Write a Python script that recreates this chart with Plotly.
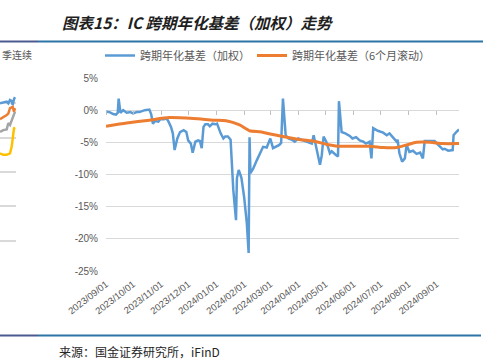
import plotly.graph_objects as go

W, H = 498, 363

# ---- main series: IC cross-period annualized basis (weighted), %
dates_w = [
    "2023-09-01","2023-09-05","2023-09-09","2023-09-12","2023-09-14","2023-09-15","2023-09-17","2023-09-20","2023-09-24","2023-09-28",
    "2023-10-01","2023-10-05","2023-10-08","2023-10-14","2023-10-19","2023-10-21","2023-10-23","2023-10-25","2023-10-29","2023-10-31",
    "2023-11-04","2023-11-07","2023-11-09","2023-11-12","2023-11-14","2023-11-16","2023-11-19","2023-11-22","2023-11-26","2023-11-29",
    "2023-12-01","2023-12-04","2023-12-06","2023-12-09","2023-12-12","2023-12-14","2023-12-16","2023-12-18","2023-12-20","2023-12-23",
    "2023-12-25","2023-12-28","2023-12-31","2024-01-02","2024-01-06","2024-01-09","2024-01-11","2024-01-14","2024-01-17","2024-01-20",
    "2024-01-23","2024-01-24","2024-01-26","2024-01-29","2024-02-01","2024-02-04","2024-02-06","2024-02-07","2024-02-08","2024-02-11",
    "2024-02-15","2024-02-19","2024-02-22","2024-02-26","2024-03-01","2024-03-04","2024-03-11","2024-03-13","2024-03-15","2024-03-18",
    "2024-03-21","2024-03-25","2024-03-28","2024-04-01","2024-04-07","2024-04-12","2024-04-16","2024-04-18","2024-04-21","2024-04-25",
    "2024-04-27","2024-04-29","2024-05-02","2024-05-06","2024-05-08","2024-05-10","2024-05-13","2024-05-15","2024-05-16","2024-05-19",
    "2024-05-23","2024-05-28","2024-05-31","2024-06-04","2024-06-08","2024-06-12","2024-06-15","2024-06-19","2024-06-21","2024-06-23",
    "2024-06-28","2024-07-04","2024-07-08","2024-07-11","2024-07-15","2024-07-19","2024-07-20","2024-07-22","2024-07-25","2024-07-28",
    "2024-07-30","2024-08-02","2024-08-06","2024-08-10","2024-08-14","2024-08-17","2024-08-19","2024-08-25","2024-08-30","2024-09-03",
    "2024-09-08","2024-09-10","2024-09-14","2024-09-19","2024-09-20","2024-09-23","2024-09-26",
]
vals_w = [
    -0.25, -0.3, -0.6, -0.7, -0.4, 1.8, -0.4, 0.0, -0.4, -0.3,
    -0.5, -0.3, -0.3, 0.0, 0.1, -0.6, -2.1, -1.7, -1.8, -1.4,
    -1.4, -1.3, -1.7, -2.6, -3.6, -6.2, -4.4, -3.4, -3.1, -3.4,
    -4.7, -5.2, -6.6, -4.9, -4.7, -4.8, -5.9, -2.6, -2.2, -2.2,
    -2.5, -2.1, -2.2, -2.1, -3.6, -4.4, -4.1, -4.1, -4.6, -12.4,
    -17.1, -10.6, -9.3, -10.5, -13.5, -17.6, -22.2, -4.2, -9.8, -9.1,
    -7.8, -6.7, -5.7, -5.8, -4.4, -5.9, -5.4, -5.1, 1.8, -3.9,
    -4.4, -4.6, -4.9, -4.4, -4.7, -4.9, -5.2, -3.9, -5.9, -8.5,
    -7.0, -4.1, -4.9, -6.7, -6.4, -6.7, -7.0, -7.2, 1.4, -3.4,
    -3.6, -4.0, -4.4, -4.2, -4.7, -4.9, -5.2, -4.9, -7.5, -2.8,
    -3.2, -3.5, -3.9, -3.6, -4.2, -4.9, -4.6, -6.7, -8.0, -7.5,
    -5.4, -6.5, -6.3, -6.8, -6.6, -7.5, -4.8, -4.8, -4.8, -5.4,
    -6.1, -6.0, -6.3, -6.2, -3.9, -3.4, -3.0,
]

# ---- 6-month rolling series, %
dates_r = ["2023-09-01","2023-09-24","2023-10-19","2023-11-10","2023-12-07","2023-12-29","2024-01-12","2024-01-27",
           "2024-02-07","2024-02-19","2024-03-01","2024-03-15","2024-04-02","2024-04-21","2024-05-02","2024-05-15",
           "2024-06-19","2024-07-04","2024-07-19","2024-07-30","2024-08-10","2024-08-25","2024-09-08","2024-09-26"]
vals_r = [-2.5, -2.0, -1.55, -1.15, -1.3, -1.55, -1.65, -2.3,
          -3.2, -3.35, -3.7, -4.1, -4.55, -4.9, -5.3, -5.6,
          -5.6, -5.8, -5.8, -5.4, -5.0, -5.0, -5.2, -5.2]

name_w = "跨期年化基差（加权）"
name_r = "跨期年化基差（6个月滚动）"

y_ticks = [-25, -20, -15, -10, -5, 0, 5]
y_labels = ["-25%", "-20%", "-15%", "-10%", "-5%", "0%", "5%"]
x_ticks = ["2023-09-01","2023-10-01","2023-11-01","2023-12-01","2024-01-01","2024-02-01","2024-03-01",
           "2024-04-01","2024-05-01","2024-06-01","2024-07-01","2024-08-01","2024-09-01"]
x_labels = ["2023/09/01","2023/10/01","2023/11/01","2023/12/01","2024/01/01","2024/02/01","2024/03/01",
            "2024/04/01","2024/05/01","2024/06/01","2024/07/01","2024/08/01","2024/09/01"]

# ---- fragment of the neighbouring chart cut at the left edge
frag_x = [0, 3.3, 6.7, 8.3, 10, 11.7, 12.7, 14, 15]
frag_blue = [5.0, 5.02, 5.05, 5.0, 5.1, 5.07, 4.95, 5.12, 5.18]
frag_orange = [4.54, 4.59, 4.66, 4.7, 4.86, 4.88, 4.9, 4.76, 4.86]
frag_gray = [4.17, 4.22, 4.24, 4.42, 4.37, 4.51, 4.6, 4.7, 4.76]
frag_yellow = [3.54, 3.5, 3.5, 3.52, 3.54, 3.74, 4.03, 4.27, 4.3]
frag_label = "季连续"

title = "图表15：IC 跨期年化基差（加权）走势"
source = "来源：国金证券研究所，iFinD"

BLUE, ORANGE = "#5B9BD5", "#ED7D31"
GRID = "#D9D9D9"
TICKC = "#595959"
NUMFONT = "Liberation Sans, Arial, sans-serif"
CJK = "Noto Sans CJK SC, sans-serif"

def fx(px):
    return px / W

def fy(py):
    return 1 - py / H

fig = go.Figure()
fig.add_trace(go.Scatter(x=dates_w, y=vals_w, mode="lines", name=name_w, legend="legend",
                         line=dict(color=BLUE, width=2.5), xaxis="x", yaxis="y"))
fig.add_trace(go.Scatter(x=dates_r, y=vals_r, mode="lines", name=name_r, legend="legend2",
                         line=dict(color=ORANGE, width=3, shape="spline", smoothing=0.6),
                         xaxis="x", yaxis="y"))
# invisible carrier for the tick-mark axis at 0%
fig.add_trace(go.Scatter(x=dates_r, y=vals_r, mode="lines", showlegend=False, hoverinfo="skip",
                         line=dict(color="rgba(0,0,0,0)"), xaxis="x2", yaxis="y"))

for ys, c in [(frag_yellow, "#FFC000"), (frag_gray, "#A5A5A5"), (frag_orange, ORANGE), (frag_blue, BLUE)]:
    fig.add_trace(go.Scatter(x=frag_x, y=ys, mode="lines", showlegend=False, hoverinfo="skip",
                             line=dict(color=c, width=2.5), xaxis="x3", yaxis="y3"))

main_dom_x = [fx(106), fx(459)]
main_dom_y = [fy(271), fy(78)]

leg_common = dict(orientation="h", xanchor="left", yanchor="top",
                  font=dict(family=CJK, size=11, color=TICKC), bgcolor="rgba(0,0,0,0)",
                  itemwidth=30, tracegroupgap=0)

fig.update_layout(
    template="none",
    width=W, height=H,
    margin=dict(l=0, r=0, t=0, b=0, autoexpand=False),
    paper_bgcolor="white", plot_bgcolor="rgba(0,0,0,0)",
    showlegend=True,
    legend=dict(x=fx(100), y=fy(41), **leg_common),
    legend2=dict(x=fx(252), y=fy(41), **leg_common),
    xaxis=dict(domain=main_dom_x, type="date", range=["2023-09-01", "2024-09-26"],
               tickvals=x_ticks, ticktext=x_labels, tickangle=-38,
               tickfont=dict(family=NUMFONT, size=9.5, color=TICKC), automargin=False,
               showgrid=False, zeroline=False, showline=False, ticks="", anchor="y",
               ticklabelstandoff=5),
    xaxis2=dict(domain=main_dom_x, type="date", matches="x", overlaying="x",
                anchor="free", position=fy(110), automargin=False,
                tickvals=x_ticks, showticklabels=False, ticks="outside", ticklen=4,
                tickcolor="#BFBFBF", tickwidth=1, showgrid=False, zeroline=False, showline=False),
    yaxis=dict(domain=main_dom_y, range=[-25, 5], tickvals=y_ticks, ticktext=y_labels,
               tickfont=dict(family=NUMFONT, size=10, color=TICKC), automargin=False,
               showgrid=True, gridcolor=GRID, gridwidth=1, zeroline=False, showline=False,
               ticks="", ticklabelstandoff=7, anchor="x"),
    xaxis3=dict(domain=[0, fx(16)], range=[0, 16], showgrid=False, zeroline=False, automargin=False,
                showticklabels=False, showline=False, ticks="", anchor="y3"),
    yaxis3=dict(domain=[fy(275), fy(69)], range=[0, 6], dtick=1, showgrid=True, gridcolor=GRID,
                gridwidth=1.5, zeroline=False, showticklabels=False, showline=False, ticks="",
                automargin=False, anchor="x3"),
)

fig.add_annotation(text=title, xref="paper", yref="paper", x=fx(60), y=fy(22),
                   xanchor="left", yanchor="middle", showarrow=False,
                   font=dict(family=CJK, size=15.5, color="#1F1F1F", weight="bold", style="italic"))
fig.add_annotation(text=source, xref="paper", yref="paper", x=fx(57), y=fy(351),
                   xanchor="left", yanchor="middle", showarrow=False,
                   font=dict(family=CJK, size=12, color="#262626"))
fig.add_annotation(text=frag_label, xref="paper", yref="paper", x=fx(0), y=fy(55),
                   xanchor="left", yanchor="middle", showarrow=False,
                   font=dict(family=CJK, size=10, color=TICKC))

# decorative rules
for yy, x_end in [(41.5, 483), (335.5, 481)]:
    fig.add_shape(type="line", xref="paper", yref="paper", x0=0, x1=fx(38), y0=fy(yy), y1=fy(yy),
                  line=dict(color="#4B5A8F", width=2))
    fig.add_shape(type="line", xref="paper", yref="paper", x0=fx(38), x1=fx(x_end), y0=fy(yy), y1=fy(yy),
                  line=dict(color="#2F74A6", width=2))

fig.write_html("out.html", config={"displayModeBar": False},
               post_script="document.body.style.margin='0';document.body.style.overflow='hidden';")
